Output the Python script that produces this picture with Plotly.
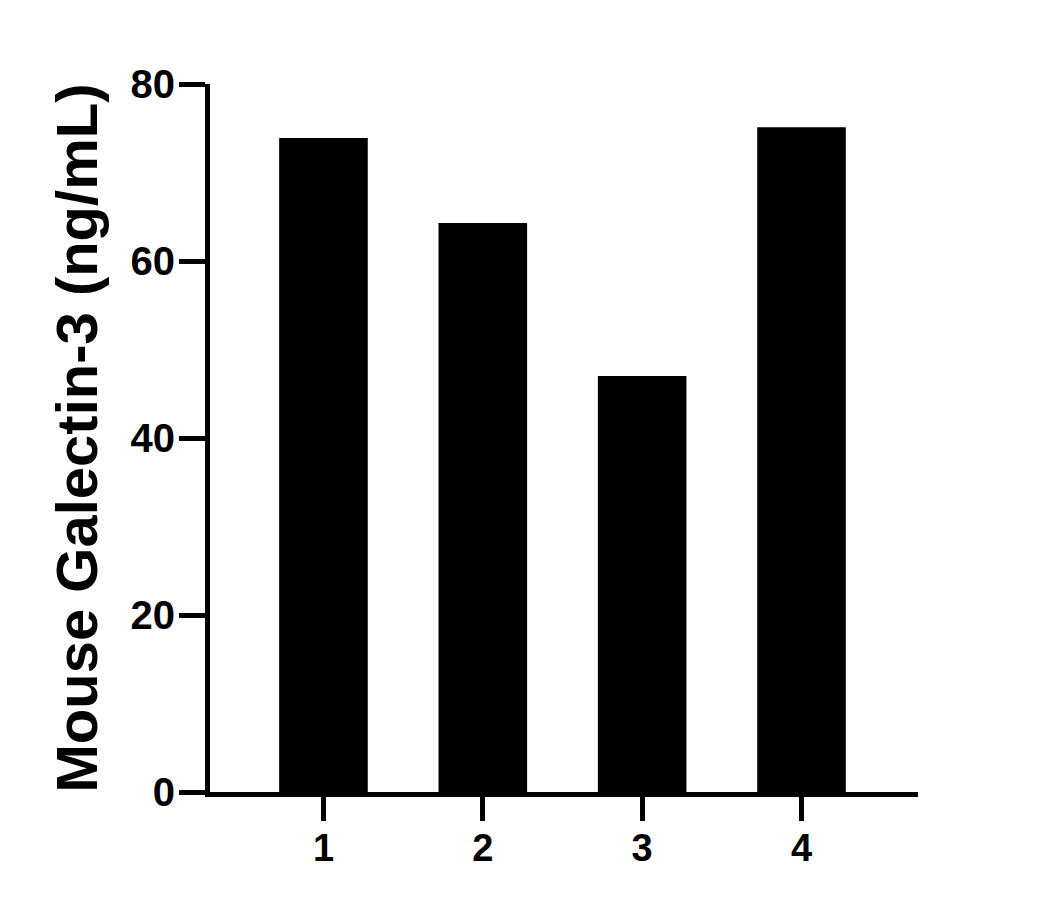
import plotly.graph_objects as go

categories = [1, 2, 3, 4]
tick_labels = ["1", "2", "3", "4"]
values = [73.9, 64.3, 47.0, 75.1]
y_ticks = [0, 20, 40, 60, 80]

fig = go.Figure()
fig.add_trace(go.Bar(
    x=categories, y=values, width=0.556,
    marker=dict(color="black", line=dict(width=0)),
))

fig.update_layout(
    width=1055, height=908,
    margin=dict(l=202, r=145, t=76, b=124, pad=0),
    paper_bgcolor="white", plot_bgcolor="white",
    showlegend=False,
    font=dict(family="Liberation Sans, Arial, sans-serif", color="black"),
)
fig.update_xaxes(
    range=[0.288, 4.731], tickmode="array", tickvals=categories, ticktext=tick_labels,
    showgrid=False, zeroline=False, showline=True, linecolor="black", linewidth=5,
    ticks="outside", ticklen=24, tickwidth=5, tickcolor="black", ticklabelstandoff=-6,
    tickfont=dict(size=38, weight="bold", family="Liberation Sans, Arial, sans-serif"),
)
fig.update_yaxes(
    range=[0, 80], tickmode="array", tickvals=y_ticks,
    showgrid=False, zeroline=False, showline=True, linecolor="black", linewidth=5,
    ticks="outside", ticklen=26, tickwidth=5, tickcolor="black", ticklabelstandoff=-4,
    tickfont=dict(size=40, weight="bold", family="Liberation Sans, Arial, sans-serif"),
    title=dict(text="Mouse Galectin-3 (ng/mL)", standoff=16,
               font=dict(size=58, weight="bold", family="Liberation Sans, Arial, sans-serif")),
)

fig.write_html("out.html")
